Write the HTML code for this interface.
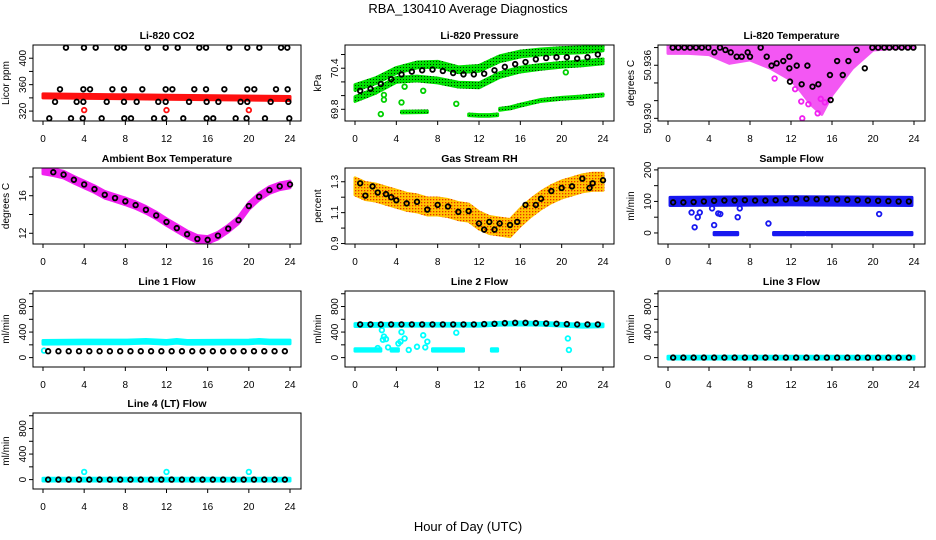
<!DOCTYPE html>
<html><head><meta charset="utf-8"><style>
html,body{margin:0;padding:0;background:#fff;}
svg{display:block;font-family:"Liberation Sans",sans-serif;}
</style></head><body>
<svg id="chart" width="936" height="540" viewBox="0 0 936 540" xmlns="http://www.w3.org/2000/svg">
<defs>
<pattern id="greenDots" width="3" height="3" patternUnits="userSpaceOnUse"><rect width="3" height="3" fill="#00e000"/><rect x="1" y="1" width="1" height="1" fill="#003000"/></pattern>
<pattern id="orangeDots" width="3" height="3" patternUnits="userSpaceOnUse"><rect width="3" height="3" fill="#ffc400"/><rect x="1" y="1" width="1.3" height="1.3" fill="#e83000"/></pattern>
</defs>
<text x="468" y="13" text-anchor="middle" font-size="13">RBA_130410  Average Diagnostics</text>
<text x="468" y="531" text-anchor="middle" font-size="13">Hour of Day (UTC)</text>
</svg>
<script>
// ---------- shared hours ----------
const hrsHalf = [0.5,1.5,2.5,3.5,4.5,5.5,6.5,7.5,8.5,9.5,10.5,11.5,12.5,13.5,14.5,15.5,16.5,17.5,18.5,19.5,20.5,21.5,22.5,23.5];
const hrsFull = [0,1,2,3,4,5,6,7,8,9,10,11,12,13,14,15,16,17,18,19,20,21,22,23,24];
const xTicks = [0,4,8,12,16,20,24];

// ---------- CO2 ----------
const co2BlackHours = [2.23,3.98,5.12,7.22,7.87,10.17,11.92,13.09,15.19,15.84,18.1,19.85,21.02,23.13,23.74,
 1.65,3.92,4.57,6.74,7.87,9.65,11.92,12.57,14.7,15.84,17.62,19.85,20.53,22.64,23.77,
 1.17,3.27,3.92,6.19,7.87,9.1,11.2,11.92,14.19,15.9,17.04,19.2,19.85,22.12,23.84,
 0.61,2.72,3.86,5.7,7.9,8.55,10.79,11.79,13.63,15.9,16.54,18.72,19.78,21.57,23.93];
const co2BlackValues = [416,416,416,416,416,416,416,416,416,416,416,416,416,416,416,
 353,353,353,353,353,353,353,353,353,353,353,353,353,353,353,
 334,334,334,334,334,334,334,334,334,334,334,334,334,334,334,
 309,309,309,309,309,309,309,309,309,309,309,309,309,309,309];
const co2BandHours = [0,6,12,18,24];
const co2BandValues = [343,342,341,340,339];
const co2RedHours = [4,12,20];
const co2RedValues = [321.5,321.5,321.5];

// ---------- Pressure ----------
const pBandHours = [0,2,4,6,8,10,12,14,16,18,20,22,24];
const pUpperTop = [70.16,70.26,70.41,70.49,70.50,70.42,70.44,70.58,70.65,70.68,70.70,70.71,70.74];
const pMiddle = [69.95,70.07,70.23,70.25,70.22,70.16,70.15,70.30,70.38,70.42,70.45,70.47,70.50];
const pLow1Hours = [4.5,7];
const pLow1Values = [69.76,69.765];
const pLow2Hours = [11,12,13,13.8];
const pLow2Values = [69.72,69.71,69.71,69.72];
const pLow3Hours = [14,15,16,18,20,22,24];
const pLow3Values = [69.80,69.82,69.86,69.93,69.96,69.98,70.01];
const pOutHours = [2.5,2.8,2.8,4.5,4.8,6.6,9.8,20.4];
const pOutValues = [69.73,70.01,69.94,69.90,70.13,70.07,69.88,70.34];
const pBlackValues = [70.07,70.10,70.17,70.24,70.31,70.35,70.37,70.38,70.36,70.33,70.31,70.31,70.32,70.37,70.42,70.46,70.49,70.53,70.55,70.56,70.56,70.54,70.56,70.60];

// ---------- Temperature ----------
const tBandHours = [0,2,4,6,8,10,12,13,14,15,16,18,20,22,24];
const tBandLow = [50.93735,50.93735,50.9372,50.93622,50.9366,50.93566,50.93434,50.9330,50.9315,50.93045,50.93264,50.93566,50.93773,50.9379,50.9380];
const tBlackHours = [0.46,1.01,1.6,2.15,2.73,3.3,3.94,4.52,5.07,5.6,6.12,6.7,7.19,7.77,8.0,9.04,9.63,10.1,10.6,11.25,11.84,11.84,11.9,12.56,13.04,13.6,14.1,14.67,15.8,15.87,16.5,17.05,17.6,18.4,19.2,19.94,20.5,21.1,21.6,22.2,22.8,23.4,23.94];
const tBlackValues = [50.938,50.938,50.938,50.938,50.938,50.938,50.938,50.93746,50.938,50.93773,50.93746,50.93697,50.93697,50.93746,50.93697,50.938,50.93697,50.93596,50.93622,50.93648,50.93697,50.93566,50.93415,50.93596,50.93385,50.93596,50.93358,50.93385,50.9349,50.93207,50.93648,50.9349,50.93648,50.93773,50.93566,50.938,50.938,50.938,50.938,50.938,50.938,50.938,50.938];
const tOutHours = [13.1,14.6,13.0,13.7,14.9,15.3,12.4,10.4];
const tOutValues = [50.9300,50.93057,50.9319,50.9316,50.9322,50.9318,50.9333,50.9345];

// ---------- Ambient ----------
const ambValues = [18.68,18.5,18.25,17.7,17.2,16.7,16.1,15.75,15.4,15.0,14.5,13.9,13.2,12.55,11.9,11.4,11.3,11.75,12.5,13.4,14.9,15.9,16.6,17.0,17.2];

// ---------- RH ----------
const rhBandValues = [1.27,1.24,1.23,1.21,1.19,1.17,1.16,1.14,1.14,1.13,1.11,1.10,1.05,1.02,1.01,1.00,1.07,1.13,1.18,1.22,1.25,1.27,1.29,1.30,1.30];
const rhBlackHours = [0.5,1,1.7,2.2,3,3.5,4,5,6,7,8,9,10,11,12,12.5,13,13.5,14,15,15.7,16.5,17.5,18,19,20,21,22,22.7,23,24];
const rhBlackValues = [1.29,1.21,1.27,1.23,1.22,1.2,1.18,1.16,1.17,1.12,1.15,1.14,1.105,1.11,1.03,0.99,1.04,0.99,1.03,1.02,1.04,1.15,1.15,1.19,1.24,1.26,1.27,1.32,1.26,1.29,1.31];

// ---------- Sample flow ----------
const sfBandHours = [0.2,6,12,18,23.8];
const sfBandValues = [100,101,102,101,100];
const sfZeroSegStart = [4.5,10.3,13.5];
const sfZeroSegEnd = [6.8,13.3,23.8];
const sfOutHours = [2.3,2.6,2.9,3.1,4.3,4.5,4.9,5.1,6.8,7.0,9.8,20.6];
const sfOutValues = [65,18,50,65,78,25,62,60,50,78,30,60];
const sfBlackValues = [97,97,98,100,102,103,103,104,103,103,104,106,108,108,107,107,106,105,104,103,102,101,100,100];

// ---------- Line flows ----------
const l1BandHours = [0,4,8,10,12,13,14,20,21,22,24];
const l1BandValues = [240,245,245,255,240,255,240,245,255,245,245];
const l1BlackValues = [100,100,100,100,100,100,100,100,100,100,100,100,100,100,100,100,100,100,100,100,100,100,100,100];
const l2BandHours = [0,4,8,12,14,16,18,20,22,24];
const l2BandValues = [510,515,515,515,530,535,530,515,500,505];
const l2LowSegStart = [0,3.5,7.5,13.2];
const l2LowSegEnd = [2.5,4.2,10.5,13.8];
const l2OutHours = [2.2,2.6,2.7,2.8,3.0,3.2,4.2,4.4,4.5,4.8,5.2,6.0,6.6,6.8,7.0,9.8,20.6,20.7];
const l2OutValues = [150,430,280,330,290,160,220,250,400,300,120,170,350,160,250,390,300,120];
const l2BlackValues = [520,520,520,520,520,520,520,520,520,520,520,520,525,530,540,545,545,540,535,530,525,520,520,520];
const l3BlackValues = [0,0,0,0,0,0,0,0,0,0,0,0,0,0,0,0,0,0,0,0,0,0,0,0];
const l4OutHours = [4,12,20];
const l4OutValues = [120,120,120];

// ---------- layout ----------
const SVGNS = "http://www.w3.org/2000/svg";
const svg = document.getElementById('chart');
const colX0 = [43,355,668], colX24 = [290,603,914];
const rowTop = [45,168,291,413];
const BOXH = 76;

function mk(tag, attrs, parent){
  const e = document.createElementNS(SVGNS, tag);
  for (const k in attrs) e.setAttribute(k, attrs[k]);
  (parent||svg).appendChild(e);
  return e;
}

function makePanel(cfg){
  const g = mk('g', {});
  
  
  const x0 = colX0[cfg.col], x24 = colX24[cfg.col];
  const top = rowTop[cfg.row], bot = top + BOXH;
  const left = x0 - 10, right = x24 + 11;
  const [d0, d1] = cfg.domain;
  const xs = h => x0 + h/24*(x24-x0);
  const ys = v => top + (d1 - v)/(d1 - d0)*BOXH;
  const p = {g, xs, ys, top, bot, left, right};
  const clipId = 'clip-' + cfg.name;
  const cp = mk('clipPath', {id: clipId}, g);
  mk('rect', {x:left, y:top, width:right-left, height:BOXH}, cp);
  p.plot = mk('g', {'clip-path':'url(#'+clipId+')'}, g);
  
  
  const t = mk('text', {x:(left+right)/2, y:top-6, 'text-anchor':'middle', 'font-size':10.5, 'font-weight':'bold'}, g);
  t.textContent = cfg.title;
  
  
  const box = mk('rect', {x:left, y:top, width:right-left, height:BOXH, fill:'none', stroke:'#000', 'stroke-width':1}, g);
  
  
  const xa = mk('g', {}, g);
  
  
  mk('line', {x1:xs(xTicks[0]), x2:xs(xTicks[xTicks.length-1]), y1:bot, y2:bot, stroke:'#000'}, xa);
  xTicks.forEach(h => {
    mk('line', {x1:xs(h), x2:xs(h), y1:bot, y2:bot+4, stroke:'#000'}, xa);
    const lt = mk('text', {x:xs(h), y:bot+21, 'text-anchor':'middle', 'font-size':10}, xa);
    lt.textContent = String(h);
    
    
  });
  const ya = mk('g', {}, g);
  
  
  mk('line', {x1:left, x2:left, y1:ys(cfg.ticks[0]), y2:ys(cfg.ticks[cfg.ticks.length-1]), stroke:'#000'}, ya);
  cfg.ticks.forEach(v => mk('line', {x1:left-4, x2:left, y1:ys(v), y2:ys(v), stroke:'#000'}, ya));
  cfg.labels.forEach((v, i) => {
    const y = ys(v);
    const lt = mk('text', {x:left-7, y:y, 'text-anchor':'middle', 'font-size':10, transform:'rotate(-90 '+(left-7)+' '+y+')'}, ya);
    lt.textContent = cfg.labelText[i];
    
    
  });
  const yc = (top+bot)/2;
  const yt = mk('text', {x:left-24, y:yc, 'text-anchor':'middle', 'font-size':10, transform:'rotate(-90 '+(left-24)+' '+yc+')'}, ya);
  yt.textContent = cfg.ytitle;
  
  
  return p;
}

function band(p, hours, lo, hi, fill, name, op){
  const pts = [];
  hours.forEach((h,i) => pts.push(p.xs(h)+','+p.ys(hi[i])));
  for (let i = hours.length-1; i >= 0; i--) pts.push(p.xs(hours[i])+','+p.ys(lo[i]));
  const e = mk('polygon', {points:pts.join(' '), fill:fill, stroke:fill, 'stroke-width':3, 'stroke-linejoin':'round', opacity:(op||1)}, p.plot);
  
  
}
function bandC(p, hours, vals, half, fill, name){
  band(p, hours, vals.map(v=>v-half), vals.map(v=>v+half), fill, name);
}
function segs(p, starts, ends, val, half, fill, name){
  starts.forEach((s,i) => band(p, [s, ends[i]], [val-half, val-half], [val+half, val+half], fill, name));
}
function circles(p, hours, vals, color, name){
  const g = mk('g', {}, p.plot);
  
  
  hours.forEach((h,i) => {
    const c = mk('circle', {cx:p.xs(h), cy:p.ys(vals[i]), r:2.3, fill:'none', stroke:color, 'stroke-width':1.8}, g);
    
    
  });
}

const flowAxis = {domain:[-147,1043], ticks:[0,200,400,600,800,1000], labels:[0,400,800], labelText:['0','400','800'], ytitle:'ml/min'};

let p = makePanel({name:'co2-panel', title:'Li-820 CO2', col:0, row:0, domain:[305,420], ticks:[320,340,360,380,400], labels:[320,360,400], labelText:['320','360','400'], ytitle:'Licor ppm'});
bandC(p, co2BandHours, co2BandValues, 3, '#ff1010', 'co2-red-band');
circles(p, co2RedHours, co2RedValues, '#ff1010', 'co2-red-outliers');
circles(p, co2BlackHours, co2BlackValues, '#000', 'co2-black-series');

p = makePanel({name:'pressure-panel', title:'Li-820 Pressure', col:1, row:0, domain:[69.629,70.739], ticks:[69.8,70.0,70.2,70.4,70.6], labels:[69.8,70.4], labelText:['69.8','70.4'], ytitle:'kPa'});
band(p, pBandHours, pUpperTop.map(v=>v-0.085), pUpperTop, 'url(#greenDots)', 'pressure-upper-band');
bandC(p, pBandHours, pMiddle, 0.035, 'url(#greenDots)', 'pressure-middle-band');
bandC(p, pLow1Hours, pLow1Values, 0.012, 'url(#greenDots)', 'pressure-low-band');
bandC(p, pLow2Hours, pLow2Values, 0.012, 'url(#greenDots)', 'pressure-low-band');
bandC(p, pLow3Hours, pLow3Values, 0.014, 'url(#greenDots)', 'pressure-low-band');
circles(p, pOutHours, pOutValues, '#00d000', 'pressure-green-outliers');
circles(p, hrsHalf, pBlackValues, '#000', 'pressure-black-series');

p = makePanel({name:'temperature-panel', title:'Li-820 Temperature', col:2, row:0, domain:[50.9297,50.93829], ticks:[50.930,50.932,50.934,50.936,50.938], labels:[50.930,50.936], labelText:['50.930','50.936'], ytitle:'degrees C'});
band(p, tBandHours, tBandLow, tBandHours.map(()=>50.9385), '#f020f0', 'temperature-magenta-band', 0.75);
circles(p, tOutHours, tOutValues, '#f020f0', 'temperature-magenta-outliers');
circles(p, tBlackHours, tBlackValues, '#000', 'temperature-black-series');

p = makePanel({name:'ambient-panel', title:'Ambient Box Temperature', col:0, row:1, domain:[10.86,18.95], ticks:[12,14,16,18], labels:[12,16], labelText:['12','16'], ytitle:'degrees C'});
bandC(p, hrsFull, ambValues, 0.35, '#f020f0', 'ambient-magenta-band');
circles(p, hrsFull.slice(1), ambValues.slice(1), '#000', 'ambient-black-series');

p = makePanel({name:'rh-panel', title:'Gas Stream RH', col:1, row:1, domain:[0.897,1.389], ticks:[0.9,1.0,1.1,1.2,1.3], labels:[0.9,1.1,1.3], labelText:['0.9','1.1','1.3'], ytitle:'percent'});
bandC(p, hrsFull, rhBandValues, 0.055, 'url(#orangeDots)', 'rh-orange-band');
circles(p, rhBlackHours, rhBlackValues, '#000', 'rh-black-series');

p = makePanel({name:'sample-flow-panel', title:'Sample Flow', col:2, row:1, domain:[-35,206], ticks:[0,50,100,150,200], labels:[0,100,200], labelText:['0','100','200'], ytitle:'ml/min'});
bandC(p, sfBandHours, sfBandValues, 13, '#1818f0', 'sample-flow-blue-band');
segs(p, sfZeroSegStart, sfZeroSegEnd, -2, 3.5, '#1818f0', 'sample-flow-zero-band');
circles(p, sfOutHours, sfOutValues, '#1818f0', 'sample-flow-blue-outliers');
circles(p, hrsHalf, sfBlackValues, '#000', 'sample-flow-black-series');

p = makePanel(Object.assign({name:'line1-flow-panel', title:'Line 1 Flow', col:0, row:2}, flowAxis));
bandC(p, l1BandHours, l1BandValues, 28, '#00ffff', 'line1-cyan-band');
circles(p, [0.1], [110], '#00ffff', 'line1-cyan-point');
circles(p, hrsHalf, l1BlackValues, '#000', 'line1-black-series');

p = makePanel(Object.assign({name:'line2-flow-panel', title:'Line 2 Flow', col:1, row:2}, flowAxis));
bandC(p, l2BandHours, l2BandValues, 22, '#00ffff', 'line2-cyan-band');
segs(p, l2LowSegStart, l2LowSegEnd, 120, 18, '#00ffff', 'line2-cyan-low-band');
circles(p, l2OutHours, l2OutValues, '#00ffff', 'line2-cyan-outliers');
circles(p, hrsHalf, l2BlackValues, '#000', 'line2-black-series');

p = makePanel(Object.assign({name:'line3-flow-panel', title:'Line 3 Flow', col:2, row:2}, flowAxis));
bandC(p, [0,24], [0,0], 22, '#00ffff', 'line3-cyan-band');
circles(p, hrsHalf, l3BlackValues, '#000', 'line3-black-series');

p = makePanel(Object.assign({name:'line4-flow-panel', title:'Line 4 (LT) Flow', col:0, row:3}, flowAxis));
bandC(p, [0,24], [0,0], 22, '#00ffff', 'line4-cyan-band');
circles(p, l4OutHours, l4OutValues, '#00ffff', 'line4-cyan-outliers');
circles(p, hrsHalf, l3BlackValues, '#000', 'line4-black-series');
</script>
</body></html>
